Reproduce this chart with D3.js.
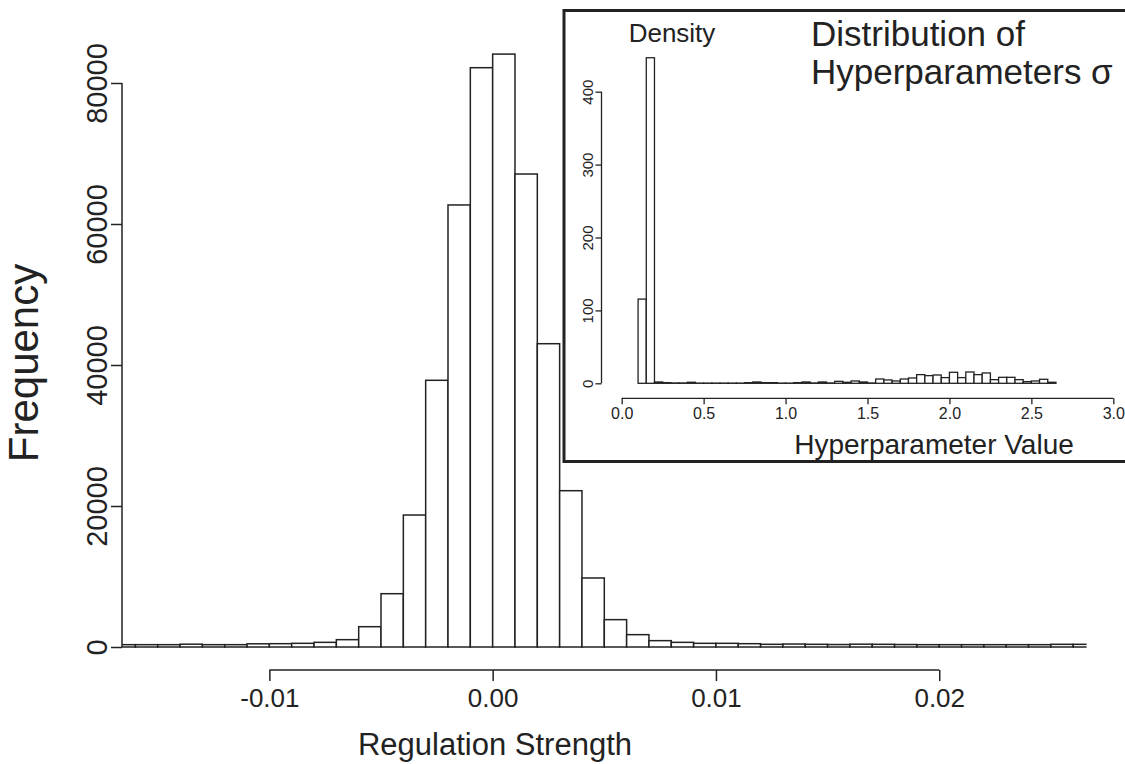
<!DOCTYPE html>
<html>
<head>
<meta charset="utf-8">
<script src="https://cdn.jsdelivr.net/npm/d3@7"></script>
<style>
  body { margin: 0; background: #fff; }
  svg { display: block; font-family: "Liberation Sans", Arial, Helvetica, sans-serif; }
</style>
</head>
<body>
<div id="chart"></div>
<script>
// main histogram: bins of width 0.001 starting at -0.017
const mainBinStart = -0.017;
const mainBinWidth = 0.001;
const mainCounts = [
  330, 330, 330, 400, 330, 330, 450, 470, 520, 660,
  1040, 2880, 7560, 18720, 37830, 62700, 82170, 84100, 67090, 43020,
  22170, 9790, 3880, 1750, 900, 660, 520, 520, 470, 380,
  420, 380, 350, 400, 380, 350, 330, 330, 330, 330,
  330, 330, 380, 380
];
const mainXTicks = [-0.01, 0.0, 0.01, 0.02];
const mainXTickLabels = ["-0.01", "0.00", "0.01", "0.02"];
const mainYTicks = [0, 20000, 40000, 60000, 80000];

// inset histogram: density of hyperparameter sigma, bins of width 0.05 from 0.10
const insetBinStart = 0.10;
const insetBinWidth = 0.05;
const insetDensity = [
  115.5, 446.6, 1.8, 0.9, 0.5, 0.5, 1.4, 0.3, 0.3, 0.3,
  0.3, 0.3, 0.3, 0.9, 1.8, 0.9, 0.9, 0.3, 0.3, 0.9,
  1.8, 0.5, 1.8, 0.5, 2.7, 1.4, 3.2, 1.8, 0.5, 5.9,
  4.6, 3.2, 5.9, 7.3, 11.9, 10.5, 11.4, 7.8, 15.1, 7.8,
  15.5, 11.9, 14.2, 5.0, 8.2, 8.2, 5.0, 2.3, 3.2, 5.5,
  1.4
];
const insetXTicks = [0, 0.5, 1.0, 1.5, 2.0, 2.5, 3.0];
const insetYTicks = [0, 100, 200, 300, 400];

const width = 1125, height = 764;
const ink = "#222";

const svg = d3.select("#chart").append("svg")
  .attr("width", width)
  .attr("height", height);

// ---------- main plot ----------
const x = d3.scaleLinear().domain([-0.0166, 0.0266]).range([122, 1086.6]);
const y = d3.scaleLinear().domain([0, 80000]).range([647, 83]);

svg.append("clipPath").attr("id", "plotclip")
  .append("rect")
  .attr("x", x.range()[0]).attr("y", 0)
  .attr("width", x.range()[1] - x.range()[0]).attr("height", height);

const mainBins = mainCounts.map((c, i) => ({
  x0: mainBinStart + i * mainBinWidth,
  x1: mainBinStart + (i + 1) * mainBinWidth,
  count: c
}));

svg.append("g")
  .attr("clip-path", "url(#plotclip)")
  .selectAll("rect")
  .data(mainBins)
  .join("rect")
  .attr("x", d => x(d.x0))
  .attr("width", d => x(d.x1) - x(d.x0))
  .attr("y", d => y(d.count))
  .attr("height", d => y(0) - y(d.count))
  .attr("fill", "#fff")
  .attr("stroke", ink)
  .attr("stroke-width", 1.5);

// y axis (R style)
const yAxis = d3.axisLeft(y).tickValues(mainYTicks).tickSize(11).tickFormat(d3.format("d"));
const yG = svg.append("g").attr("transform", `translate(${x.range()[0]},0)`).call(yAxis);
yG.select(".domain").attr("d", `M-0,${y(0)}V${y(80000)}`).attr("stroke", ink).attr("stroke-width", 1.5);
yG.selectAll(".tick line").attr("stroke", ink).attr("stroke-width", 1.5);
yG.selectAll(".tick text")
  .attr("x", null).attr("dy", null)
  .attr("transform", "translate(-15,0) rotate(-90)")
  .attr("text-anchor", "middle")
  .attr("font-size", 29)
  .attr("fill", ink);

// x axis (R style, below the bars)
const xAxis = d3.axisBottom(x).tickValues(mainXTicks).tickSize(11)
  .tickFormat((d, i) => mainXTickLabels[i]);
const xG = svg.append("g").attr("transform", "translate(0,670)").call(xAxis);
xG.select(".domain").attr("d", `M${x(mainXTicks[0])},0H${x(mainXTicks[mainXTicks.length - 1])}`)
  .attr("stroke", ink).attr("stroke-width", 1.5);
xG.selectAll(".tick line").attr("stroke", ink).attr("stroke-width", 1.5);
xG.selectAll(".tick text")
  .attr("y", 37).attr("dy", null)
  .attr("font-size", 26)
  .attr("fill", ink);

svg.append("text")
  .attr("x", 495).attr("y", 755)
  .attr("text-anchor", "middle")
  .attr("font-size", 31)
  .attr("fill", ink)
  .text("Regulation Strength");

svg.append("text")
  .attr("transform", "translate(38,363) rotate(-90)")
  .attr("text-anchor", "middle")
  .attr("font-size", 42)
  .attr("fill", ink)
  .text("Frequency");

// ---------- inset ----------
svg.append("rect")
  .attr("x", 564).attr("y", 10.5)
  .attr("width", 600).attr("height", 451)
  .attr("fill", "#fff")
  .attr("stroke", ink)
  .attr("stroke-width", 3);

const ix = d3.scaleLinear().domain([0, 3]).range([621.7, 1113.3]);
const iy = d3.scaleLinear().domain([0, 400]).range([383.3, 91.7]);

const insetBins = insetDensity.map((v, i) => ({
  x0: insetBinStart + i * insetBinWidth,
  x1: insetBinStart + (i + 1) * insetBinWidth,
  v: v
}));

svg.append("g")
  .selectAll("rect")
  .data(insetBins)
  .join("rect")
  .attr("x", d => ix(d.x0))
  .attr("width", d => ix(d.x1) - ix(d.x0))
  .attr("y", d => iy(d.v))
  .attr("height", d => iy(0) - iy(d.v))
  .attr("fill", "#fff")
  .attr("stroke", ink)
  .attr("stroke-width", 1.3);

const iyAxis = d3.axisLeft(iy).tickValues(insetYTicks).tickSize(6);
const iyG = svg.append("g").attr("transform", "translate(601.5,0)").call(iyAxis);
iyG.select(".domain").attr("d", `M-0,${iy(0)}V${iy(400)}`).attr("stroke", ink).attr("stroke-width", 1.3);
iyG.selectAll(".tick line").attr("stroke", ink).attr("stroke-width", 1.3);
iyG.selectAll(".tick text")
  .attr("x", null).attr("dy", null)
  .attr("transform", "translate(-9,0) rotate(-90)")
  .attr("text-anchor", "middle")
  .attr("font-size", 15)
  .attr("fill", ink);

const ixAxis = d3.axisBottom(ix).tickValues(insetXTicks).tickSize(6).tickFormat(d3.format(".1f"));
const ixG = svg.append("g").attr("transform", "translate(0,398.3)").call(ixAxis);
ixG.select(".domain").attr("d", `M${ix(0)},0H${ix(3)}`).attr("stroke", ink).attr("stroke-width", 1.3);
ixG.selectAll(".tick line").attr("stroke", ink).attr("stroke-width", 1.3);
ixG.selectAll(".tick text")
  .attr("y", 21).attr("dy", null)
  .attr("font-size", 16)
  .attr("fill", ink);

svg.append("text")
  .attr("x", 934).attr("y", 454)
  .attr("text-anchor", "middle")
  .attr("font-size", 28)
  .attr("fill", ink)
  .text("Hyperparameter Value");

svg.append("text")
  .attr("x", 672).attr("y", 42)
  .attr("text-anchor", "middle")
  .attr("font-size", 26)
  .attr("fill", ink)
  .text("Density");

const title = svg.append("text")
  .attr("x", 811)
  .attr("font-size", 35)
  .attr("fill", ink);
title.append("tspan").attr("x", 811).attr("y", 46).text("Distribution of");
title.append("tspan").attr("x", 811).attr("y", 84).text("Hyperparameters σ");
</script>
</body>
</html>
